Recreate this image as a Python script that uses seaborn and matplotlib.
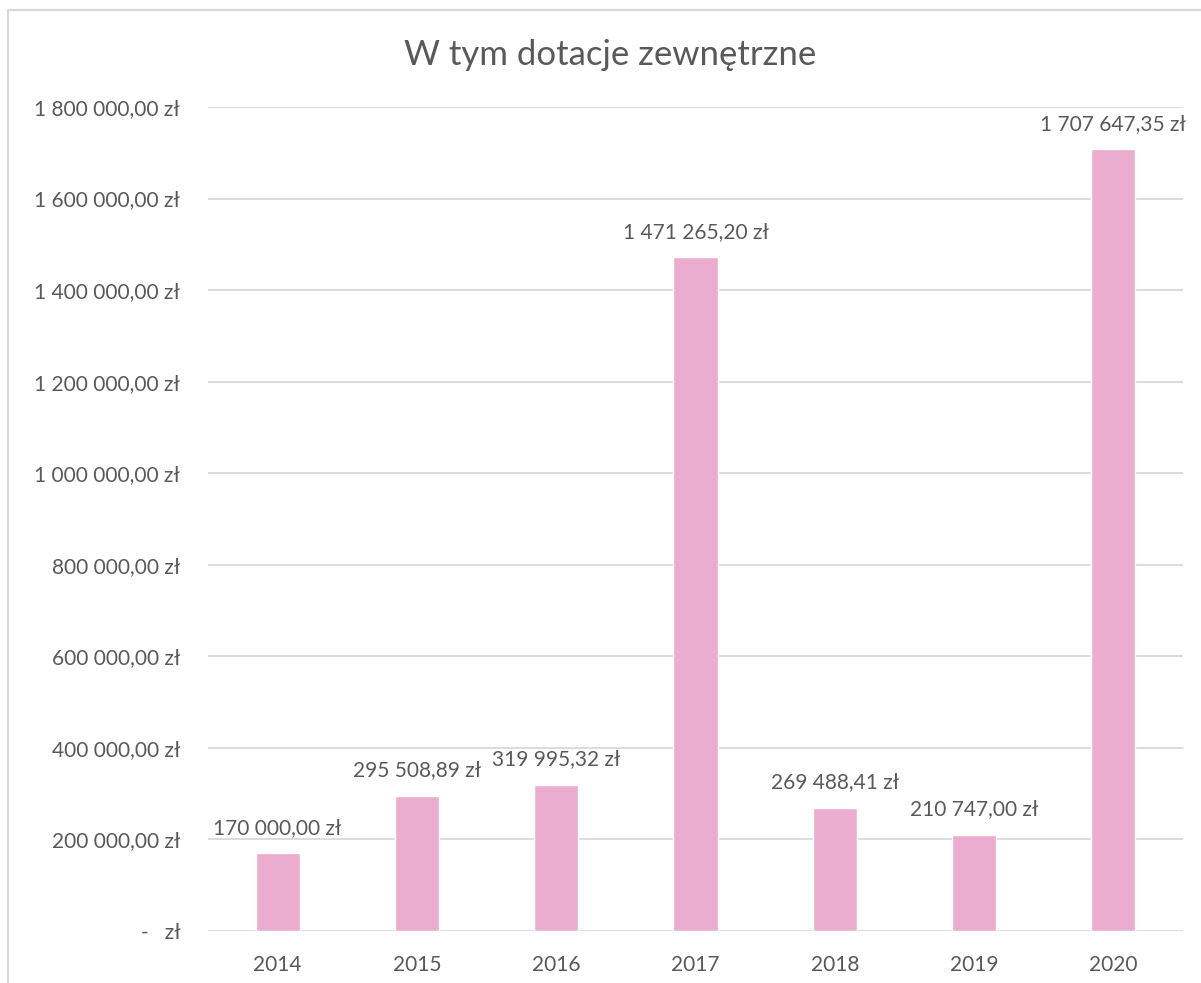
import pandas as pd
import matplotlib.pyplot as plt
import matplotlib.patches as patches
from matplotlib.ticker import FuncFormatter, MultipleLocator
import seaborn as sns

# -------- DATA --------
years = ["2014", "2015", "2016", "2017", "2018", "2019", "2020"]
grants = [170000.00, 295508.89, 319995.32, 1471265.20, 269488.41, 210747.00, 1707647.35]

df = pd.DataFrame({"Rok": years, "Dotacje": grants})

# -------- STYLE --------
bar_color = "#EBADCF"
text_color = "#595959"
grid_color = "#D9D9D9"

sns.set_style("white")
plt.rcParams["font.family"] = ["Lato", "DejaVu Sans"]


def pln(value):
    if abs(value) < 1e-9:
        return "-   zł"
    s = f"{value:,.2f}".replace(",", " ").replace(".", ",")
    return s + " zł"


# -------- PLOT --------
fig = plt.figure(figsize=(12.01, 9.83), dpi=100)
ax = fig.add_axes([208 / 1201, 1 - 931 / 983, (1183 - 208) / 1201, (931 - 107) / 983])

sns.barplot(data=df, x="Rok", y="Dotacje", color=bar_color, width=0.316,
            saturation=1, ax=ax, zorder=2)

ax.set_ylim(0, 1800000)
ax.yaxis.set_major_locator(MultipleLocator(200000))
ax.yaxis.set_major_formatter(FuncFormatter(lambda v, p: pln(v)))
ax.grid(axis="y", color=grid_color, linewidth=1.3, zorder=0)
ax.set_axisbelow(True)
for side in ["top", "right", "left", "bottom"]:
    ax.spines[side].set_visible(False)

ax.tick_params(axis="both", length=0, labelsize=15, colors=text_color)
ax.tick_params(axis="x", pad=17)
ax.tick_params(axis="y", pad=20)
ax.set_xlabel("")
ax.set_ylabel("")

# value labels above bars
for i, v in enumerate(grants):
    ax.annotate(pln(v), (i, v), xytext=(0, 11), textcoords="offset points",
                ha="center", va="bottom", fontsize=15, color=text_color)

fig.text(610 / 1201, 1 - 55 / 983, "W tym dotacje zewnętrzne", ha="center", va="center",
         fontsize=25, color=text_color)

# outer chart frame
fig.patches.append(patches.Rectangle((8 / 1201, -0.1), 1.2, 1.1 - 10 / 983,
                                     transform=fig.transFigure, fill=False,
                                     edgecolor=grid_color, linewidth=1.5))

fig.savefig("out.png", dpi=100)
